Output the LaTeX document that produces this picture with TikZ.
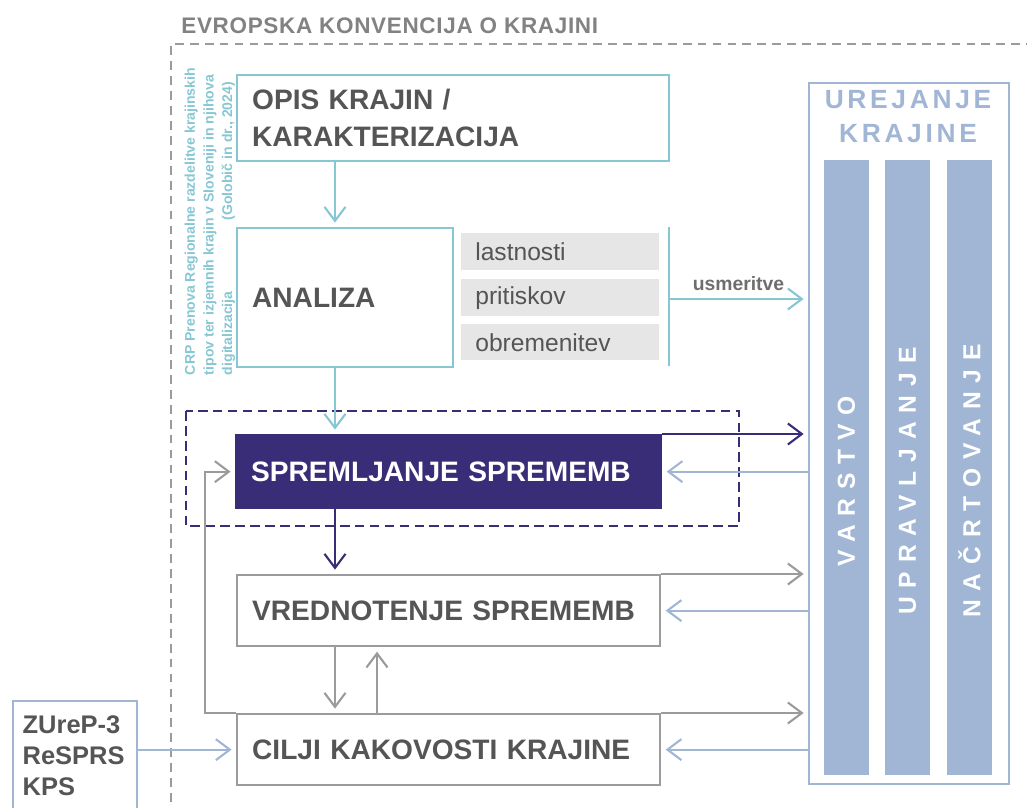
\documentclass[tikz,border=0pt]{standalone}
\usepackage{fontspec}
\setmainfont{Liberation Sans}
\usetikzlibrary{arrows.meta}
\definecolor{teal1}{RGB}{135,199,211}
\definecolor{lblue}{RGB}{160,182,212}
\definecolor{navy}{RGB}{57,45,120}
\definecolor{dgrey}{RGB}{85,85,85}
\definecolor{mgrey}{RGB}{155,155,155}
\definecolor{tgrey}{RGB}{130,130,130}
\definecolor{lgrey}{RGB}{230,230,230}

\begin{document}
\begin{tikzpicture}[
            box/.style={draw, line width=1.3pt, anchor=north west, align=left, inner xsep=0.3cm, text=dgrey, font=\fontsize{16}{21}\selectfont\bfseries},
            tag/.style={fill=lgrey, anchor=north west, minimum height=0.74cm, inner xsep=0.28cm, text width=3.4cm, text=dgrey, font=\fontsize{14}{16}\selectfont},
            col/.style={fill=lblue, rotate=90, minimum width=12.3cm, minimum height=0.9cm, text=white, font=\fontsize{14}{16}\selectfont\bfseries\addfontfeatures{LetterSpace=36}},
            arr/.style={-{Straight Barb[length=2.8mm, width=4.2mm]}, line width=1.2pt, shorten >=2.5pt}
            ]
            \useasboundingbox (0,0) rectangle (20.54,-16.16);

            % outer frame and title
            \draw[mgrey, line width=1.5pt, dash pattern=on 5pt off 3.5pt] (21,-0.88) -- (3.42,-0.88) -- (3.42,-16.5);
            \node[anchor=base west, inner sep=0pt, text=tgrey, font=\fontsize{12.8}{15}\selectfont\bfseries\addfontfeatures{LetterSpace=3}] (title) at (3.62,-0.67) {EVROPSKA KONVENCIJA O KRAJINI};

            \node[rotate=90, align=left, text=teal1, font=\fontsize{8}{10.6}\selectfont\bfseries] (crp) at (4.2,-4.43)
                {CRP Prenova Regionalne razdelitve krajinskih\\tipov ter izjemnih krajin v Sloveniji in njihova\\\makebox[5.86cm][s]{digitalizacija\hfill(Golobič in dr., 2024)}};

            \node[box, draw=teal1, text width=8.04cm, minimum height=1.72cm] (opis) at (4.72,-1.48) {OPIS KRAJIN /\\KARAKTERIZACIJA};
            \node[box, draw=teal1, text width=3.72cm, minimum height=2.78cm] (analiza) at (4.72,-4.54) {ANALIZA};
            \node[tag] (lastnosti) at (9.22,-4.66) {lastnosti};
            \node[tag] (pritiskov) at (9.22,-5.58) {pritiskov};
            \node[tag, minimum height=0.72cm] (obrem) at (9.22,-6.48) {obremenitev};

            \draw[navy, line width=1.3pt, dash pattern=on 5.5pt off 3pt] (3.72,-8.22) rectangle (14.78,-10.52);
            \node[box, draw=navy, fill=navy, text=white, text width=7.9cm, minimum height=1.46cm] (sprem) at (4.70,-8.68) {SPREMLJANJE SPREMEMB};
            \node[box, draw=mgrey, text width=7.86cm, minimum height=1.42cm] (vred) at (4.72,-11.48) {VREDNOTENJE SPREMEMB};
            \node[box, draw=mgrey, text width=7.86cm, minimum height=1.42cm] (cilji) at (4.72,-14.26) {CILJI KAKOVOSTI KRAJINE};
            \node[box, draw=lblue, text width=2.1cm, inner xsep=0.19cm, minimum height=2.2cm, font=\fontsize{14.5}{17.6}\selectfont\bfseries] (zurep) at (0.24,-14.0) {\mbox{ZUreP-3}\\ReSPRS\\KPS};

            % urejanje krajine
            \node[draw=lblue, line width=1.3pt, anchor=north west, minimum width=4cm, minimum height=14.02cm] (urej) at (16.16,-1.64) {};
            \node[align=center, text=lblue, font=\fontsize{15}{19.3}\selectfont\bfseries\addfontfeatures{LetterSpace=14}] (urejtitle) at (18.16,-2.34) {UREJANJE\\KRAJINE};
            \node[col] (varstvo) at (16.93,-9.35) {VARSTVO\hspace*{0.54cm}};
            \node[col] (upravljanje) at (18.15,-9.35) {UPRAVLJANJE\hspace*{0.54cm}};
            \node[col] (nacrtovanje) at (19.39,-9.35) {NAČRTOVANJE\hspace*{0.54cm}};

            \coordinate (spine) at (6.70,0);
            \coordinate (spine2) at (7.54,0);
            \coordinate (bartop) at (13.38,-4.54);
            \coordinate (barbot) at (13.38,-7.32);
            \coordinate (barmid) at (13.38,-5.98);

            \draw[arr, teal1] (opis.south -| spine) -- (analiza.north -| spine);
            \draw[arr, teal1] (analiza.south -| spine) -- (sprem.north -| spine);
            \draw[arr, navy] (sprem.south -| spine) -- (vred.north -| spine);
            \draw[arr, mgrey] (vred.south -| spine) -- (cilji.north -| spine);
            \draw[arr, mgrey] (cilji.north -| spine2) -- (vred.south -| spine2);

            \draw[teal1, line width=1.2pt] (bartop) -- (barbot);
            \draw[arr, teal1] (barmid) -- (barmid -| urej.west) node[midway, above=1pt, text=dgrey!85, font=\fontsize{11}{13}\selectfont\bfseries] (usm) {usmeritve};

            \draw[arr, navy] (sprem.north east) -- (sprem.north east -| urej.west);
            \draw[arr, lblue] (sprem.east -| urej.west) -- (sprem.east);
            \draw[arr, mgrey] (vred.north east) -- (vred.north east -| urej.west);
            \draw[arr, lblue] (vred.east -| urej.west) -- (vred.east);
            \draw[arr, mgrey] (cilji.north east) -- (cilji.north east -| urej.west);
            \draw[arr, lblue] (cilji.east -| urej.west) -- (cilji.east);

            \draw[arr, mgrey] (cilji.north west) -- ++(-0.62,0) |- (sprem.west);
            \draw[arr, lblue] (zurep.east |- cilji.west) -- (cilji.west);

            \end{tikzpicture}
\end{document}
